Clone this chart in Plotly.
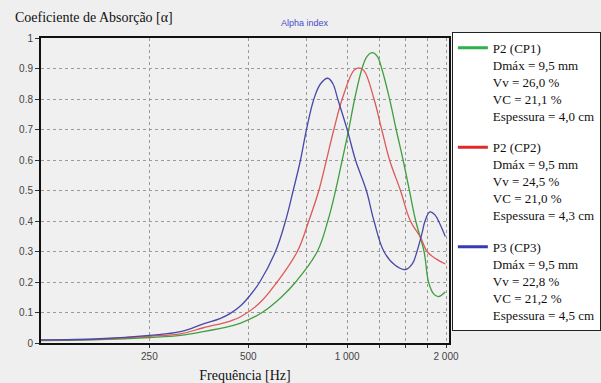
import plotly.graph_objects as go

# ---- data ----
f_cp1 = [117, 177, 250, 311, 365, 441, 474, 551, 630, 697, 811, 873, 922, 966, 1011, 1054, 1110, 1150, 1193,
         1235, 1274, 1346, 1410, 1480, 1547, 1617, 1714, 1769, 1830, 1895, 1990]
a_cp1 = [0.008, 0.011, 0.018, 0.025, 0.037, 0.055, 0.065, 0.1, 0.15, 0.2, 0.3, 0.4, 0.5, 0.6, 0.7, 0.8, 0.9, 0.94, 0.952,
         0.94, 0.9, 0.8, 0.7, 0.6, 0.5, 0.4, 0.3, 0.2, 0.162, 0.152, 0.168]

f_cp2 = [117, 177, 250, 311, 365, 441, 474, 540, 612, 705, 764, 820, 865, 911, 966, 1047, 1085, 1125,
         1207, 1274, 1346, 1453, 1558, 1675, 1750, 1870, 1990]
a_cp2 = [0.01, 0.013, 0.022, 0.03, 0.05, 0.072, 0.086, 0.13, 0.2, 0.3, 0.4, 0.5, 0.6, 0.7, 0.8, 0.893, 0.902, 0.893,
         0.8, 0.7, 0.6, 0.5, 0.4, 0.345, 0.3, 0.275, 0.259]

f_cp3 = [117, 177, 250, 311, 365, 410, 441, 474, 507, 542, 605, 649, 685, 721, 752, 792, 830, 873, 905,
         936, 1000, 1060, 1144, 1207, 1294, 1400, 1508, 1580, 1631, 1690, 1726, 1786, 1850, 1906, 1990]
a_cp3 = [0.01, 0.014, 0.025, 0.037, 0.063, 0.08, 0.097, 0.122, 0.157, 0.2, 0.3, 0.4, 0.5, 0.6, 0.7, 0.8, 0.85, 0.868, 0.85,
         0.8, 0.7, 0.6, 0.5, 0.4, 0.3, 0.255, 0.241, 0.26, 0.3, 0.36, 0.4, 0.43, 0.42, 0.395, 0.349]

names = [
    "P2 (CP1)<br>Dmáx = 9,5 mm<br>Vv = 26,0 %<br>VC = 21,1 %<br>Espessura = 4,0 cm",
    "P2 (CP2)<br>Dmáx = 9,5 mm<br>Vv = 24,5 %<br>VC = 21,0 %<br>Espessura = 4,3 cm",
    "P3 (CP3)<br>Dmáx = 9,5 mm<br>Vv = 22,8 %<br>VC = 21,2 %<br>Espessura = 4,5 cm",
]
curve_colors = ["#3f9f3f", "#dc5a5a", "#4848a8"]
legend_colors = ["#2eb04a", "#e02a2a", "#3a3ab0"]

x_tickvals = [250, 500, 750, 1000, 1250, 1500, 1750, 2000]
x_ticktext = ["250", "500", "", "1 000", "", "", "", "2 000"]

fig = go.Figure()
series = [(f_cp1, a_cp1), (f_cp2, a_cp2), (f_cp3, a_cp3)]
for i, (fx, ay) in enumerate(series):
    fig.add_trace(go.Scatter(x=fx, y=ay, mode="lines",
                             line=dict(color=curve_colors[i], width=1.3, shape="spline", smoothing=1.1),
                             showlegend=False, hoverinfo="skip"))
for i in range(3):
    fig.add_trace(go.Scatter(x=[None], y=[None], mode="lines", name=names[i],
                             line=dict(color=legend_colors[i], width=3),
                             legendgroup="g%d" % i, showlegend=True))

serif = "Liberation Serif"
sans = "Liberation Sans"

fig.update_layout(
    width=601, height=383,
    margin=dict(l=41, r=152, t=38, b=40, autoexpand=False),
    paper_bgcolor="#efefef", plot_bgcolor="#f0f0f0",
    title=dict(text="Coeficiente de Absorção [α]", x=15/601, xanchor="left", xref="container",
               y=1-17/383, yanchor="middle", yref="container",
               font=dict(family=serif, size=14, color="#111")),
    legend=dict(x=1.007, xanchor="left", y=1.02, yanchor="top", maxheight=340,
                bgcolor="#ffffff", bordercolor="#222", borderwidth=1,
                font=dict(family=serif, size=13, color="#111"),
                valign="top", traceorder="grouped", tracegroupgap=12, itemwidth=30),
    xaxis=dict(type="log", range=[2.068, 3.310], tickvals=x_tickvals, ticktext=x_ticktext,
               showgrid=True, gridcolor="#9a9a9a", griddash="3px,3px", gridwidth=1,
               showline=True, linecolor="#111", linewidth=2, mirror=True,
               ticks="outside", ticklen=3, tickcolor="#333",
               tickfont=dict(family=sans, size=10, color="#444"),
               title=dict(text="Frequência [Hz]", font=dict(family=serif, size=14, color="#111"), standoff=12)),
    yaxis=dict(range=[0, 1], dtick=0.1, tick0=0,
               showgrid=True, gridcolor="#9a9a9a", griddash="3px,3px", gridwidth=1,
               showline=True, linecolor="#111", linewidth=2, mirror=True, zeroline=False,
               ticks="outside", ticklen=4, tickcolor="#333",
               tickfont=dict(family=sans, size=10, color="#444")),
    annotations=[dict(text="Alpha index", xref="paper", yref="paper", x=0.647, y=1.049,
                      xanchor="center", yanchor="middle",
                      showarrow=False, font=dict(family=sans, size=9, color="#4a4ac8"))],
)

fig.write_html("out.html")
